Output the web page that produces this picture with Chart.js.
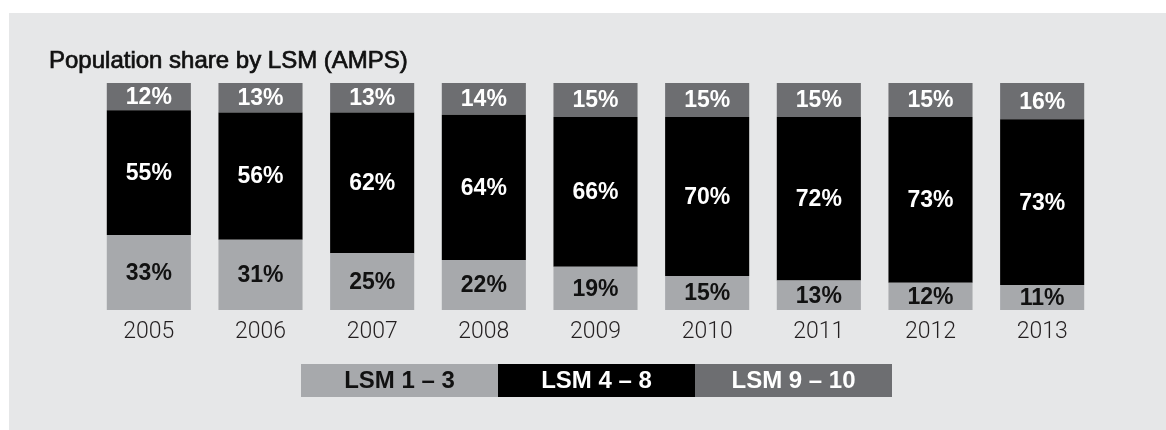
<!DOCTYPE html>
<html>
<head>
<meta charset="utf-8">
<title>Population share by LSM (AMPS)</title>
<script src="https://cdn.jsdelivr.net/npm/chart.js@4/dist/chart.umd.min.js"></script>
<style>
  html, body { margin: 0; padding: 0; background: #ffffff; }
  #wrap { width: 1166px; height: 430px; position: relative; }
  canvas { display: block; }
</style>
</head>
<body>
<div id="wrap"><canvas id="chart" width="1166" height="430"></canvas></div>
<script>
// Survey years and population share (%) per LSM group
const years = ['2005', '2006', '2007', '2008', '2009', '2010', '2011', '2012', '2013'];
const lsm1to3 = [33, 31, 25, 22, 19, 15, 13, 12, 11];
const lsm4to8 = [55, 56, 62, 64, 66, 70, 72, 73, 73];
const lsm9to10 = [12, 13, 13, 14, 15, 15, 15, 15, 16];
const groupNames = ['LSM 1 \u2013 3', 'LSM 4 \u2013 8', 'LSM 9 \u2013 10'];
const chartTitle = 'Population share by LSM (AMPS)';

const PANEL = '#e6e7e8';
const LIGHT = '#a7a9ac';
const BLACK = '#000000';
const DARK = '#6d6e71';
const labelColors = ['#111111', '#ffffff', '#ffffff'];
const BOLD = 'bold 23px "Liberation Sans", Arial, sans-serif';

// Grey panel behind the whole chart, plus the heading
const panelPlugin = {
  id: 'panel',
  beforeDraw(chart) {
    const ctx = chart.ctx;
    ctx.save();
    ctx.fillStyle = '#ffffff';
    ctx.fillRect(0, 0, chart.width, chart.height);
    ctx.fillStyle = PANEL;
    ctx.fillRect(9, 13, chart.width - 9, chart.height - 13);
    ctx.fillStyle = '#111111';
    ctx.strokeStyle = '#111111';
    ctx.lineWidth = 0.7;
    ctx.font = '24px "Liberation Sans", Arial, sans-serif';
    ctx.textBaseline = 'alphabetic';
    ctx.textAlign = 'left';
    ctx.fillText(chartTitle, 49, 68);
    ctx.strokeText(chartTitle, 49, 68);
    ctx.restore();
  }
};

// Percentage written in the middle of every segment
const segmentLabels = {
  id: 'segmentLabels',
  afterDatasetsDraw(chart) {
    const ctx = chart.ctx;
    ctx.save();
    ctx.font = BOLD;
    ctx.textAlign = 'center';
    ctx.textBaseline = 'middle';
    chart.data.datasets.forEach((ds, di) => {
      const meta = chart.getDatasetMeta(di);
      ctx.fillStyle = labelColors[di];
      meta.data.forEach((bar, i) => {
        const y = (bar.y + bar.base) / 2;
        ctx.fillText(ds.data[i] + '%', bar.x, y + 1);
      });
    });
    ctx.restore();
  }
};

// Legend as three joined blocks with the group name inside
const blockLegend = {
  id: 'blockLegend',
  afterDraw(chart) {
    const ctx = chart.ctx;
    const ds = chart.data.datasets;
    const w = 197, h = 33, top = 364;
    const cx = (chart.chartArea.left + chart.chartArea.right) / 2 + 1;
    const left = cx - (w * ds.length) / 2;
    ctx.save();
    ctx.font = 'bold 24px "Liberation Sans", Arial, sans-serif';
    ctx.textAlign = 'center';
    ctx.textBaseline = 'middle';
    ds.forEach((d, i) => {
      const x = left + i * w;
      ctx.fillStyle = d.backgroundColor;
      ctx.fillRect(x, top, w, h);
      ctx.fillStyle = labelColors[i];
      ctx.fillText(d.label, x + w / 2, top + h / 2 + 1);
    });
    ctx.restore();
  }
};

new Chart(document.getElementById('chart'), {
  type: 'bar',
  data: {
    labels: years,
    datasets: [
      { label: groupNames[0], data: lsm1to3, backgroundColor: LIGHT },
      { label: groupNames[1], data: lsm4to8, backgroundColor: BLACK },
      { label: groupNames[2], data: lsm9to10, backgroundColor: DARK }
    ]
  },
  options: {
    responsive: false,
    animation: false,
    layout: { padding: { left: 93, right: 68, top: 83, bottom: 0 } },
    datasets: {
      bar: { categoryPercentage: 1, barPercentage: 0.753, borderWidth: 0 }
    },
    scales: {
      x: {
        stacked: true,
        grid: { display: false, drawTicks: false },
        border: { display: false },
        ticks: {
          color: '#231f20',
          padding: 8,
          font: { family: 'Roboto, "Liberation Sans", sans-serif', size: 23, weight: 300 }
        },
        afterFit(scale) { scale.height = 120; }
      },
      y: {
        stacked: true,
        min: 0,
        max: 100,
        display: false
      }
    },
    plugins: {
      legend: { display: false },
      title: { display: false },
      tooltip: { enabled: false }
    }
  },
  plugins: [panelPlugin, segmentLabels, blockLegend]
});
</script>
</body>
</html>
